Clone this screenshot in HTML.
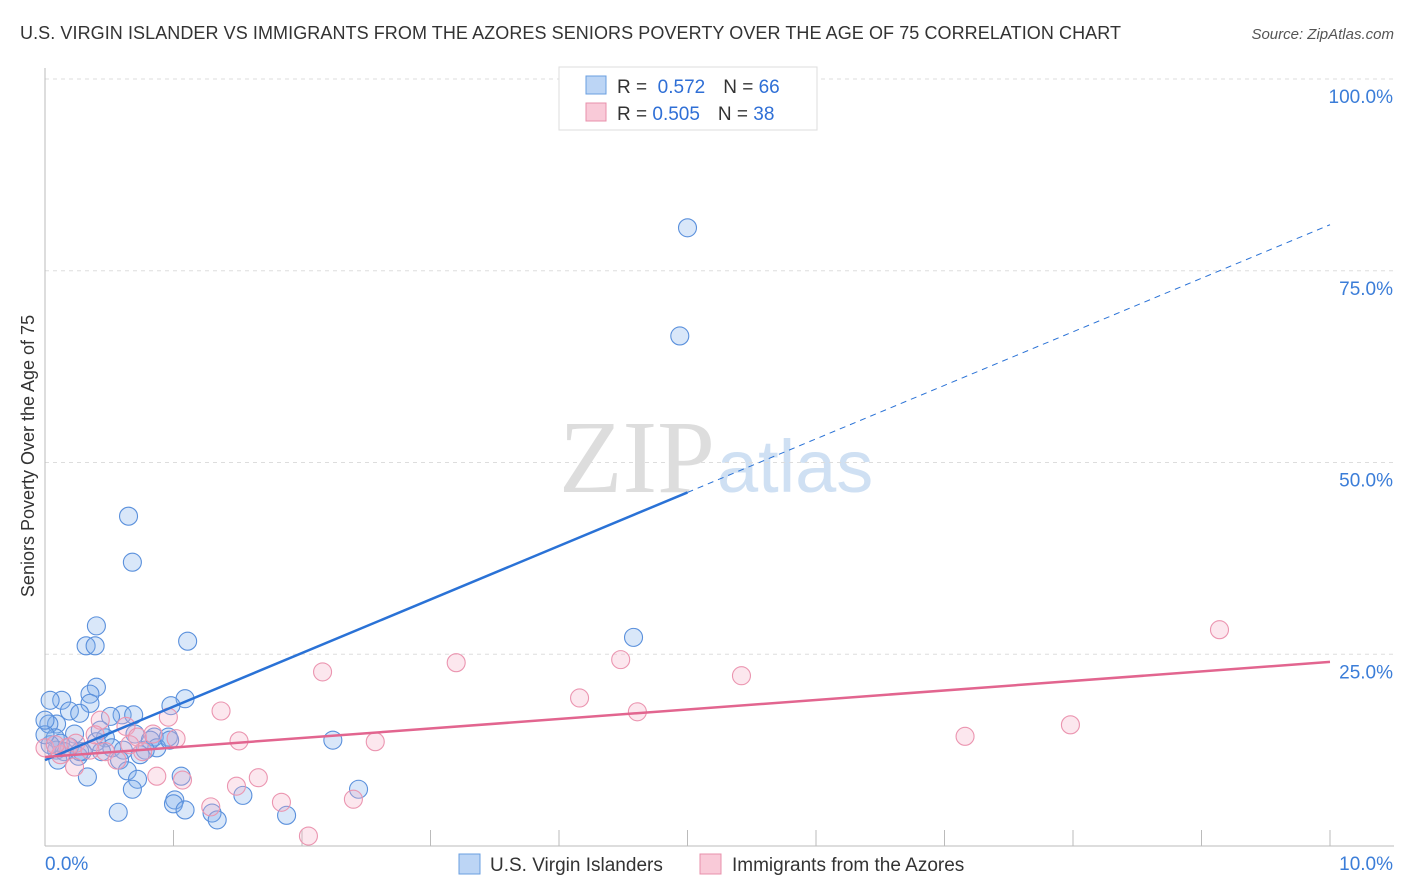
<!DOCTYPE html>
<html><head><meta charset="utf-8"><style>
body{margin:0;background:#fff;font-family:"Liberation Sans",sans-serif}
svg{display:block}
</style></head><body>
<svg id="c" width="1406" height="892" xmlns="http://www.w3.org/2000/svg">
<text x="20" y="39" font-size="18" fill="#333" textLength="1101">U.S. VIRGIN ISLANDER VS IMMIGRANTS FROM THE AZORES SENIORS POVERTY OVER THE AGE OF 75 CORRELATION CHART</text>
<text x="1394" y="39" font-size="15" fill="#555" font-style="italic" text-anchor="end">Source: ZipAtlas.com</text>
<text x="715" y="492" font-size="104" fill="#ddd" font-family="Liberation Serif,serif" text-anchor="end">ZIP</text>
<text x="717" y="492" font-size="74" fill="#cfe0f3">atlas</text>
<text x="34" y="456" font-size="18" fill="#333" text-anchor="middle" transform="rotate(-90 34 456)">Seniors Poverty Over the Age of 75</text>
<g id="grid"></g><g id="marks"></g>
<g>
<rect x="559" y="67" width="258" height="63" fill="#fff" stroke="#ddd"/>
<rect x="586" y="76" width="20" height="18" fill="#bcd5f5" stroke="#6a9fe0"/>
<rect x="586" y="103" width="20" height="18" fill="#f9cad8" stroke="#e890ab"/>
<text x="617" y="93" font-size="19" fill="#333">R = <tspan fill="#2f6fd6">&#160;0.572</tspan><tspan dx="18">N = </tspan><tspan fill="#2f6fd6">66</tspan></text>
<text x="617" y="120" font-size="19" fill="#333">R = <tspan fill="#2f6fd6">0.505</tspan><tspan dx="18">N = </tspan><tspan fill="#2f6fd6">38</tspan></text>
</g>
<g>
<rect x="459" y="854" width="21" height="20" fill="#bcd5f5" stroke="#6a9fe0"/>
<text x="490" y="871" font-size="19" fill="#333">U.S. Virgin Islanders</text>
<rect x="700" y="854" width="21" height="20" fill="#f9cad8" stroke="#e890ab"/>
<text x="732" y="871" font-size="19" fill="#333">Immigrants from the Azores</text>
</g>
</svg>
<script>
const yTicks=[25,50,75,100];
const yTickLabels=["25.0%","50.0%","75.0%","100.0%"];
const xTickVals=[1,2,3,4,5,6,7,8,9,10];
const blueX=[5.00,4.94,0.65,0.68,4.58,0.40,0.32,0.39,1.11,0.40,0.35,0.35,0.13,0.04,0.19,0.27,0.60,0.69,0.51,1.09,0.98,0.09,0.03,0.23,0.08,0.47,0.70,0.85,0.96,0.82,0.40,0.52,0.61,0.44,0.29,0.19,0.12,0.09,0.15,0.26,0.87,0.78,2.24,0.58,0.10,0.64,0.33,1.06,0.72,0.68,1.01,1.54,2.44,1.00,1.09,1.30,1.34,1.88,0.57,0.04,0.0,0.43,0.74,0.97,0.0,0.27];
const blueY=[80.6,66.5,43.0,37.0,27.2,28.7,26.1,26.1,26.7,20.7,19.8,18.6,19.0,19.0,17.6,17.3,17.1,17.1,16.9,19.2,18.3,15.9,15.9,14.6,14.1,14.1,14.6,14.2,14.2,13.8,13.6,12.8,12.5,12.3,12.3,12.9,13.4,12.5,12.3,11.7,12.8,12.5,13.8,11.2,11.2,9.8,9.0,9.1,8.7,7.4,6.0,6.6,7.4,5.5,4.7,4.3,3.4,4.0,4.4,13.2,14.5,15.1,11.9,13.8,16.4,12.3];
const pinkX=[9.14,3.20,4.48,2.16,5.42,4.16,4.61,1.37,0.96,0.43,0.63,7.98,7.16,2.57,1.51,1.02,0.72,0.84,0.18,0.0,0.24,0.47,0.56,0.76,0.35,0.12,0.23,0.87,1.49,1.66,1.07,2.40,1.84,1.29,2.05,0.08,0.66,0.39];
const pinkY=[28.2,23.9,24.3,22.7,22.2,19.3,17.5,17.6,16.8,16.4,15.6,15.8,14.3,13.6,13.7,14.0,14.2,14.6,12.9,12.8,13.4,12.3,11.2,12.3,12.5,11.9,10.3,9.1,7.8,8.9,8.6,6.1,5.7,5.1,1.3,13.2,13.2,14.5];
const blueTrend=[11.2,81.0];
const pinkTrend=[11.6,24.0];
const NS="http://www.w3.org/2000/svg";
const sx=v=>45+v*128.5, sy=v=>846-v*7.67;
function mk(t,a,p){const e=document.createElementNS(NS,t);for(const k in a)e.setAttribute(k,a[k]);p.appendChild(e);return e;}
const g=document.getElementById('grid'),m=document.getElementById('marks');
yTicks.forEach((v,i)=>{
 const l=mk('line',{x1:45,x2:1394,y1:sy(v),y2:sy(v),stroke:'#ddd','stroke-dasharray':'4,4'},g);
 
 
 const t=mk('text',{x:1393,y:sy(v)+24,'font-size':19,fill:'#3b7dd8','text-anchor':'end'},g);t.textContent=yTickLabels[i];
 
 
});
const ax=mk('line',{x1:45,x2:1394,y1:846,y2:846,stroke:'#bbb'},g);


const ay=mk('line',{x1:45,x2:45,y1:68,y2:846,stroke:'#bbb'},g);


xTickVals.forEach(v=>{const t=mk('line',{x1:sx(v),x2:sx(v),y1:830,y2:846,stroke:'#bbb'},g);
 
 });
const x0=mk('text',{x:45,y:870,'font-size':19,fill:'#3b7dd8'},g);x0.textContent='0.0%';


const x1=mk('text',{x:1393,y:870,'font-size':19,fill:'#3b7dd8','text-anchor':'end'},g);x1.textContent='10.0%';


blueX.forEach((x,i)=>{const c=mk('circle',{cx:sx(x),cy:sy(blueY[i]),r:9,fill:'rgba(130,175,235,0.3)',stroke:'#5a90dc','stroke-width':1.1},m);
 
 });
pinkX.forEach((x,i)=>{const c=mk('circle',{cx:sx(x),cy:sy(pinkY[i]),r:9,fill:'rgba(245,175,198,0.3)',stroke:'#eb95b0','stroke-width':1.1},m);
 
 });
const bAt=x=>blueTrend[0]+(blueTrend[1]-blueTrend[0])*x/10;
const b1=mk('line',{x1:sx(0),y1:sy(bAt(0)),x2:sx(5),y2:sy(bAt(5)),stroke:'#2a72d6','stroke-width':2.5},m);


const b2=mk('line',{x1:sx(5),y1:sy(bAt(5)),x2:sx(10),y2:sy(bAt(10)),stroke:'#2a72d6','stroke-width':1,'stroke-dasharray':'6,5'},m);


const p1=mk('line',{x1:sx(0),y1:sy(pinkTrend[0]),x2:sx(10),y2:sy(pinkTrend[1]),stroke:'#e2658f','stroke-width':2.5},m);


</script>
</body></html>
